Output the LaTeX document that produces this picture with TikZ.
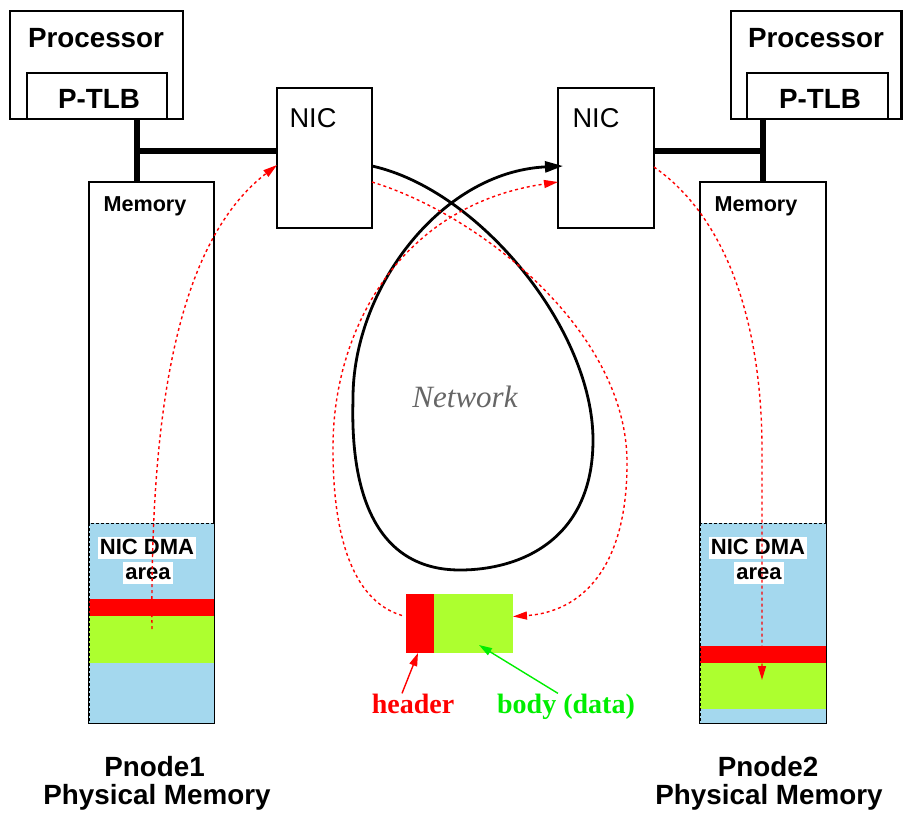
\documentclass[tikz,border=0pt]{standalone}
\usepackage{fontspec}
\setmainfont{Liberation Serif}
\setsansfont{Liberation Sans}
\usetikzlibrary{arrows.meta}
\definecolor{dmablue}{HTML}{A4D8EE}
\definecolor{bodygreen}{HTML}{ADFF2F}
\definecolor{txtgreen}{HTML}{00EE00}
\definecolor{netgray}{HTML}{666666}
\begin{document}
\begin{tikzpicture}[x=1pt,y=-1pt,
  hw/.style={draw, line width=2.6pt, inner sep=0pt, outer sep=0pt},
  tlbbox/.style={draw, line width=1.4pt, inner sep=0pt, outer sep=0pt},
  membox/.style={draw, fill=white, line width=1.3pt, inner sep=0pt, outer sep=0pt},
  blk/.style={inner sep=0pt, outer sep=0pt},
  bus/.style={line width=6pt},
  bigtxt/.style={font=\sffamily\bfseries\fontsize{27.8}{31}\selectfont, anchor=base, inner sep=0pt},
  nictxt/.style={font=\sffamily\fontsize{27.2}{31}\selectfont, anchor=base, inner sep=0pt},
  smalltxt/.style={font=\sffamily\bfseries\fontsize{21.6}{24}\selectfont, anchor=base, inner sep=0pt},
  dmalbl/.style={font=\sffamily\bfseries\fontsize{22}{24}\selectfont, anchor=base, fill=white, inner xsep=2pt, inner ysep=2pt, text height=15pt, text depth=3pt},
  pktlbl/.style={font=\rmfamily\bfseries\fontsize{28}{31}\selectfont, anchor=base, inner sep=0pt},
  redflow/.style={red, line width=1.4pt, dash pattern=on 3pt off 3pt, -{Triangle[length=14pt,width=8pt]}},
  netflow/.style={line width=2.8pt, -{Triangle[length=18pt,width=11pt]}},
  lblarrow/.style={line width=1.4pt, -{Triangle[length=13pt,width=8pt]}},
]
\useasboundingbox (0,0) rectangle (903,815);

\coordinate (b1) at (137,151);
\coordinate (b2) at (763,151);

% ---------- memories ----------
\node[membox, minimum width=125pt, minimum height=541pt] (mem1) at (151.5,452.5) {};
\node[membox, minimum width=126pt, minimum height=541pt] (mem2) at (763,452.5) {};

% left DMA area
\fill[dmablue] (89,523) rectangle (214,723);
\fill[red] (89,599) rectangle (214,616);
\fill[bodygreen] (89,616) rectangle (214,663);
\draw[line width=1pt, dash pattern=on 3pt off 2pt] (89,523) rectangle (214,723);
% right DMA area
\fill[dmablue] (700,523) rectangle (826,723);
\fill[red] (700,646) rectangle (826,663);
\fill[bodygreen] (700,663) rectangle (826,709);
\draw[line width=1pt, dash pattern=on 3pt off 2pt] (700,523) rectangle (826,723);

\node[smalltxt] (mem1t) at (145,211) {Memory};
\node[smalltxt] (mem2t) at (756,211) {Memory};
\node[dmalbl] (dma1a) at (147,554) {NIC DMA};
\node[dmalbl] (dma1b) at (148,579) {area};
\node[dmalbl] (dma2a) at (758,554) {NIC DMA};
\node[dmalbl] (dma2b) at (759,579) {area};

% ---------- processors ----------
\node[hw, minimum width=173pt, minimum height=108pt] (proc1) at (96.5,65) {};
\node[tlbbox, minimum width=140pt, minimum height=46pt] (tlb1) at (97,96) {};
\node[bigtxt] (proc1t) at (96,47) {Processor};
\node[bigtxt] (tlb1t) at (99,108) {P-TLB};

\node[hw, minimum width=170.5pt, minimum height=108pt] (proc2) at (816.25,65) {};
\node[tlbbox, minimum width=141pt, minimum height=46pt] (tlb2) at (817.5,96) {};
\node[bigtxt] (proc2t) at (816,47) {Processor};
\node[bigtxt] (tlb2t) at (820,108) {P-TLB};

% ---------- NICs ----------
\node[hw, fill=white, minimum width=95pt, minimum height=140pt] (nic1) at (324.5,158) {};
\node[nictxt] (nic1t) at (313,127) {NIC};
\node[hw, fill=white, minimum width=96pt, minimum height=140pt] (nic2) at (606,158) {};
\node[nictxt] (nic2t) at (596,127) {NIC};

% buses
\draw[bus] (b1 |- proc1.south) -- (b1 |- mem1.north);
\draw[bus] (b1) -- (b1 -| nic1.west);
\draw[bus] (b2 |- proc2.south) -- (b2 |- mem2.north);
\draw[bus] (b2) -- (b2 -| nic2.east);

% ---------- packet ----------
\node[blk, fill=red, minimum width=28pt, minimum height=59pt] (phd) at (420,623.5) {};
\node[blk, fill=bodygreen, minimum width=79pt, minimum height=59pt] (pbd) at (473.5,623.5) {};
\node[pktlbl, text=red] (hdr) at (413,713) {header};
\node[pktlbl, text=txtgreen] (bdy) at (566,713) {body (data)};
\draw[lblarrow, red] ([xshift=-11pt]hdr.north) -- ([xshift=-2pt]phd.south);
\draw[lblarrow, txtgreen] ([xshift=-8pt]bdy.north) -- ([xshift=5.5pt,yshift=8pt]pbd.south);

% ---------- network ----------
\node[font=\rmfamily\itshape\fontsize{31}{34}\selectfont, text=netgray, anchor=base, inner sep=0pt] (net) at (465,407) {Network};

\coordinate (blkA) at ([yshift=-8pt]nic1.east);
\coordinate (blkB) at ([xshift=5pt,yshift=-8pt]nic2.west);
\draw[netflow] (blkA) .. controls (480,190) and (593,330) .. (593,440)
  .. controls (593,540) and (520,570) .. (460,570)
  .. controls (380,570) and (350,500) .. (353,400)
  .. controls (352,290) and (440,172) .. (blkB);

% red flows
\coordinate (r1s) at ([yshift=-24pt]nic1.east);
\coordinate (r1e) at ([yshift=7pt]pbd.east);
\draw[redflow] (r1s) .. controls (480,215) and (625,330) .. (627,460)
  .. controls (628,570) and (580,612) .. (r1e);

\coordinate (r2s) at ([xshift=-4pt,yshift=8pt]phd.west);
\coordinate (r2e) at ([yshift=-24pt]nic2.west);
\draw[redflow] (r2s) .. controls (350,600) and (333,530) .. (333,450)
  .. controls (332,330) and (400,205) .. (r2e);

\coordinate (m1s) at (152,629);
\draw[redflow] (m1s) .. controls (150,400) and (180,240) .. ([yshift=-7pt]nic1.west);
\coordinate (m2e) at (762,680);
\draw[redflow] ([yshift=-9pt]nic2.east) .. controls (730,220) and (762,330) .. (762,450) -- (m2e);

% ---------- captions ----------
\node[bigtxt] (cap1a) at (154.5,776) {Pnode1};
\node[bigtxt] (cap1b) at (157,804) {Physical Memory};
\node[bigtxt] (cap2a) at (768,776) {Pnode2};
\node[bigtxt] (cap2b) at (769,804) {Physical Memory};
\end{tikzpicture}
\end{document}
